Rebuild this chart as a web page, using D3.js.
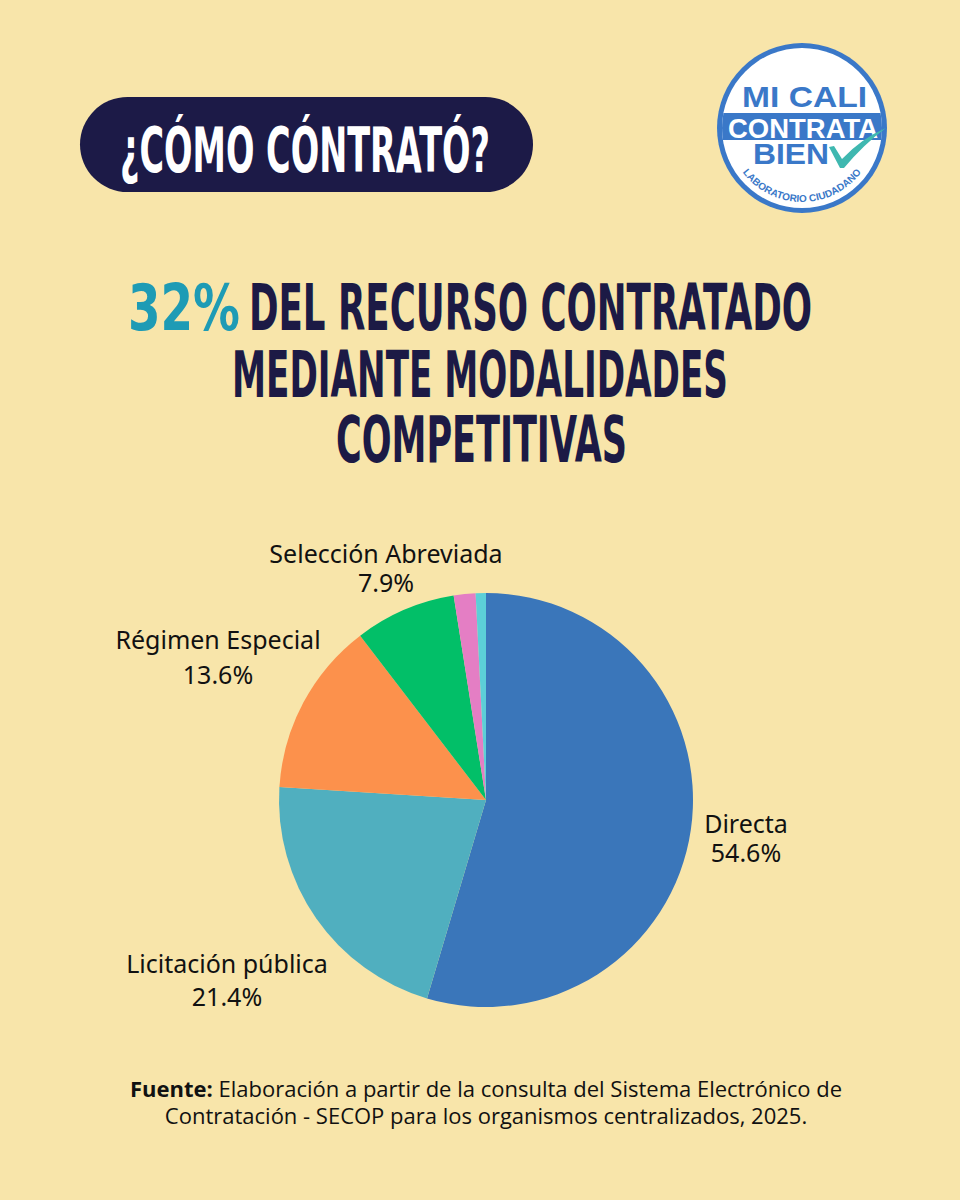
<!DOCTYPE html>
<html><head><meta charset="utf-8">
<script src="https://cdn.jsdelivr.net/npm/d3@7"></script>
<style>html,body{margin:0;padding:0;background:#f8e5aa;}svg{display:block;}</style>
</head><body>
<script>
const categories = ["Directa","Licitación pública","Régimen Especial","Selección Abreviada","Otra 1","Otra 2"];
const values = [54.6, 21.4, 13.6, 7.9, 1.7, 0.8];
const labels = ["54.6%","21.4%","13.6%","7.9%","",""];
const colors = ["#3a76ba","#50afbf","#fc914c","#02bf68","#e47ec4","#5ccfd8"];

const W=960,H=1200;
const svg=d3.select("body").append("svg").attr("width",W).attr("height",H);
svg.append("rect").attr("width",W).attr("height",H).attr("fill","#f8e5aa");

const tf="DejaVu Sans, sans-serif";
function fitText(x,y,len,size,txt,fill){
  return svg.append("text").attr("x",x).attr("y",y).attr("font-family",tf).attr("font-weight","bold")
    .attr("font-size",size).attr("fill",fill).attr("textLength",len).attr("lengthAdjust","spacingAndGlyphs").text(txt);
}
// pill header
svg.append("rect").attr("x",80).attr("y",97).attr("width",453).attr("height",95).attr("rx",47.5).attr("fill","#1c1a47");
fitText(120,172,370,63,"¿CÓMO CÓNTRATÓ?","#ffffff");

// title
fitText(128,330,112,64,"32%","#1e9bb5");
fitText(249,330,563,64,"DEL RECURSO CONTRATADO","#1c1a45");
fitText(232,397,496,64,"MEDIANTE MODALIDADES","#1c1a45");
fitText(336,462,291,64,"COMPETITIVAS","#1c1a45");

// logo
const lg=svg.append("g").attr("transform","translate(802,128)");
lg.append("circle").attr("r",85).attr("fill","#3a78c8");
lg.append("circle").attr("r",80).attr("fill","#ffffff");
lg.append("defs").append("clipPath").attr("id","lc").append("circle").attr("r",80);
lg.append("rect").attr("x",-90).attr("y",-15).attr("width",180).attr("height",27).attr("fill","#3a78c8").attr("clip-path","url(#lc)");
const lf="Liberation Sans, Arial, sans-serif";
lg.append("text").attr("x",-60).attr("y",-21).attr("font-family",lf).attr("font-weight","bold").attr("font-size",30).attr("fill","#3a78c8").attr("textLength",125).attr("lengthAdjust","spacingAndGlyphs").text("MI CALI");
lg.append("text").attr("x",-74).attr("y",10).attr("font-family",lf).attr("font-weight","bold").attr("font-size",27).attr("fill","#ffffff").attr("textLength",150).attr("lengthAdjust","spacingAndGlyphs").text("CONTRATA");
lg.append("text").attr("x",-49).attr("y",36).attr("font-family",lf).attr("font-weight","bold").attr("font-size",29).attr("fill","#3a78c8").attr("textLength",76).attr("lengthAdjust","spacingAndGlyphs").text("BIEN");
lg.append("path").attr("d","M27,19 L32,18 L40,31 Q60,10 84,0 Q62,16 42,40 L38,40 Z").attr("fill","#3fb8b0");
lg.append("path").attr("id","arcp").attr("d","M-74,0 A74,74 0 0 0 74,0").attr("fill","none");
lg.append("text").attr("font-family",lf).attr("font-weight","bold").attr("font-size",10).attr("fill","#3a78c8")
  .append("textPath").attr("href","#arcp").attr("startOffset","50%").attr("text-anchor","middle").text("LABORATORIO CIUDADANO");

// pie
const cx=486,cy=800,R=207;
const pie=d3.pie().sort(null).value(d=>d)(values);
const arc=d3.arc().innerRadius(0).outerRadius(R);
const pg=svg.append("g").attr("transform",`translate(${cx},${cy})`);
pg.selectAll("path").data(pie).join("path").attr("d",arc).attr("fill",(d,i)=>colors[i]);

// labels
const labelPos=[[746,833,862],[227,973,1006],[218,649,684],[386,563,592]];
const lab=svg.append("g").attr("font-family","Noto Sans, sans-serif").attr("font-size",25).attr("fill","#111").attr("text-anchor","middle");
labelPos.forEach((p,i)=>{
  lab.append("text").attr("x",p[0]).attr("y",p[1]).text(categories[i]);
  lab.append("text").attr("x",p[0]).attr("y",p[2]).text(labels[i]);
});

// footer
const ff="Open Sans, sans-serif";
const f1=svg.append("text").attr("x",486).attr("y",1097).attr("text-anchor","middle").attr("font-family",ff).attr("font-size",22).attr("fill","#111");
f1.append("tspan").attr("font-weight","bold").text("Fuente:");
f1.append("tspan").text(" Elaboración a partir de la consulta del Sistema Electrónico de");
svg.append("text").attr("x",486).attr("y",1124).attr("text-anchor","middle").attr("font-family",ff).attr("font-size",22).attr("fill","#111").text("Contratación - SECOP para los organismos centralizados, 2025.");
</script>
</body></html>
